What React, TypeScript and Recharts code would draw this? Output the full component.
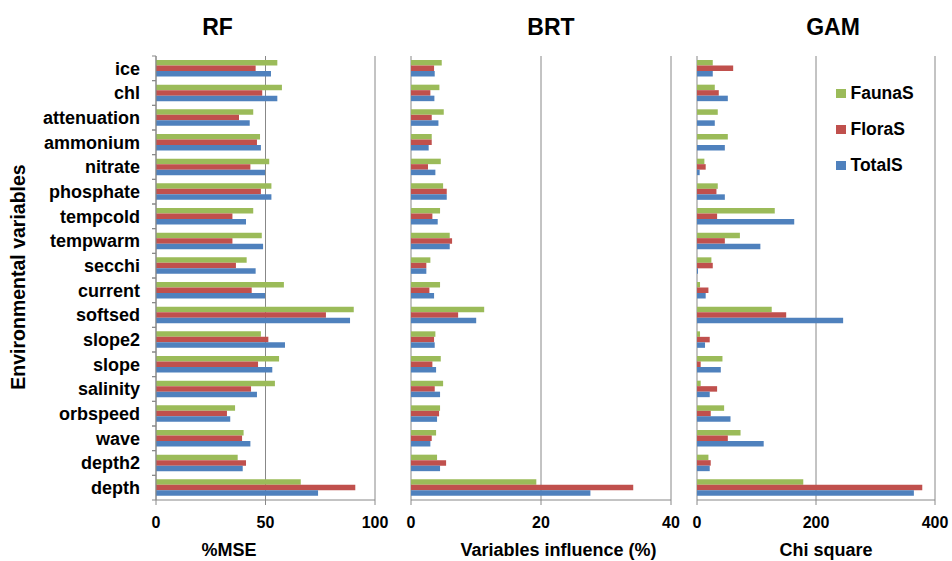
import { Bar, BarChart, CartesianGrid, Legend, XAxis, YAxis } from 'recharts'

const categories = [
  'ice', 'chl', 'attenuation', 'ammonium', 'nitrate', 'phosphate', 'tempcold', 'tempwarm', 'secchi',
  'current', 'softsed', 'slope2', 'slope', 'salinity', 'orbspeed', 'wave', 'depth2', 'depth',
]

// RF (%MSE)
const rfFauna = [55.4, 57.5, 44.4, 47.5, 51.7, 52.7, 44.4, 48.3, 41.4, 58.4, 90.3, 47.9, 56.2, 54.3, 36.1, 40.0, 37.3, 66.1]
const rfFlora = [45.5, 48.5, 37.9, 46.1, 43.1, 47.9, 34.9, 34.9, 36.5, 43.7, 77.6, 51.3, 46.6, 43.4, 32.4, 39.3, 41.1, 91.0]
const rfTotal = [52.5, 55.4, 42.8, 47.9, 49.8, 52.7, 41.1, 48.9, 45.5, 49.8, 88.6, 58.9, 53.1, 46.1, 33.9, 43.1, 39.6, 74.0]

// BRT (variables influence %)
const brtFauna = [4.73, 4.37, 5.04, 3.19, 4.58, 4.94, 4.47, 5.96, 2.98, 4.47, 11.26, 3.75, 4.58, 4.94, 4.47, 3.86, 4.01, 19.28]
const brtFlora = [3.55, 2.98, 3.19, 3.19, 2.62, 5.5, 3.29, 6.32, 2.36, 2.83, 7.25, 3.55, 3.29, 3.65, 4.32, 3.19, 5.4, 34.19]
const brtTotal = [3.65, 3.6, 4.22, 2.72, 3.75, 5.5, 4.11, 5.96, 2.36, 3.55, 10.03, 3.65, 3.86, 4.47, 4.01, 2.98, 4.47, 27.6]

// GAM (chi square)
const gamFauna = [26.5, 29.9, 34.9, 51.8, 12.4, 34.9, 130.7, 72.1, 24.2, 5.1, 125.6, 5.1, 42.8, 6.2, 45.6, 73.2, 19.2, 178.6]
const gamFlora = [60.8, 36.6, 0, 0, 14.6, 32.7, 33.8, 46.8, 26.5, 19.2, 149.9, 21.4, 6.2, 33.8, 23.1, 51.8, 23.1, 378.6]
const gamTotal = [26.5, 51.8, 29.9, 46.8, 4.5, 46.8, 163.4, 106.5, 1.7, 14.6, 245.6, 13.5, 40.0, 21.4, 56.3, 112.1, 21.4, 364.5]

const rfTicks = [0, 50, 100]
const brtTicks = [0, 20, 40]
const gamTicks = [0, 200, 400]

const GREEN = '#9BBB59'
const RED = '#C0504D'
const BLUE = '#4F81BD'
const AXIS = '#888888'
const FONT = '"Liberation Sans", Arial, Helvetica, sans-serif'

const PLOT_HEIGHT = 444
const HALF_BAND = PLOT_HEIGHT / categories.length / 2

function CategoryTick({ x, y, payload }: any) {
  return (
    <g>
      <text x={x} y={y} dy="0.35em" textAnchor="end" fontSize={18} fontWeight="bold" fill="#000" fontFamily={FONT}>
        {payload.value}
      </text>
      <line x1={x + 12} x2={x + 16} y1={y - HALF_BAND} y2={y - HALF_BAND} stroke={AXIS} />
      <line x1={x + 12} x2={x + 16} y1={y + HALF_BAND} y2={y + HALF_BAND} stroke={AXIS} />
    </g>
  )
}

function LegendBox({ payload }: any) {
  return (
    <div style={{ fontFamily: FONT }}>
      {(payload || []).map((p: any) => (
        <div key={p.value} style={{ display: 'flex', alignItems: 'center', height: 36 }}>
          <span style={{ width: 9.5, height: 9.5, background: p.color, marginRight: 5, display: 'inline-block' }} />
          <span style={{ fontSize: 17.5, fontWeight: 'bold', color: '#000' }}>{p.value}</span>
        </div>
      ))}
    </div>
  )
}

interface PanelProps {
  fauna: number[]
  flora: number[]
  total: number[]
  ticks: number[]
  plotLeft: number
  plotRight: number
  labels?: boolean
  legend?: boolean
}

function Panel({ fauna, flora, total, ticks, plotLeft, plotRight, labels = false, legend = false }: PanelProps) {
  const data = categories.map((name, i) => ({ name, fauna: fauna[i], flora: flora[i], total: total[i] }))
  const yWidth = labels ? plotLeft : 0
  return (
    <div style={{ position: 'absolute', left: 0, top: 0 }}>
      <BarChart
        width={952}
        height={561}
        data={data}
        layout="vertical"
        margin={{ top: 56, right: 952 - plotRight, bottom: 31, left: plotLeft - yWidth }}
        barGap={0}
        barSize={5.5}
      >
        <CartesianGrid horizontal={false} stroke={AXIS} />
        <XAxis
          type="number"
          domain={[ticks[0], ticks[ticks.length - 1]]}
          ticks={ticks}
          interval={0}
          stroke={AXIS}
          tickSize={5}
          tickMargin={12}
          tick={{ fill: '#000', fontSize: 16, fontWeight: 'bold', fontFamily: FONT }}
        />
        <YAxis
          type="category"
          dataKey="name"
          width={yWidth}
          stroke={AXIS}
          tickLine={false}
          tickSize={4}
          tickMargin={12}
          interval={0}
          tick={labels ? <CategoryTick /> : false}
        />
        {legend && (
          <Legend
            layout="horizontal"
            verticalAlign="middle"
            align="center"
            wrapperStyle={{ left: 836, top: 75.5, width: 110 }}
            content={<LegendBox />}
          />
        )}
        <Bar dataKey="fauna" name="FaunaS" fill={GREEN} isAnimationActive={false} />
        <Bar dataKey="flora" name="FloraS" fill={RED} isAnimationActive={false} />
        <Bar dataKey="total" name="TotalS" fill={BLUE} isAnimationActive={false} />
      </BarChart>
    </div>
  )
}

export default function App() {
  return (
    <div style={{ position: 'absolute', left: 0, top: 0, width: 952, height: 561, background: '#fff', fontFamily: FONT }}>
      <Panel fauna={rfFauna} flora={rfFlora} total={rfTotal} ticks={rfTicks} plotLeft={156} plotRight={375} labels />
      <Panel fauna={brtFauna} flora={brtFlora} total={brtTotal} ticks={brtTicks} plotLeft={411} plotRight={671} />
      <Panel fauna={gamFauna} flora={gamFlora} total={gamTotal} ticks={gamTicks} plotLeft={697} plotRight={935} legend />
      <svg width={952} height={561} style={{ position: 'absolute', left: 0, top: 0, pointerEvents: 'none' }}>
        <g fontFamily={FONT} fontWeight="bold" fill="#000" textAnchor="middle">
          <text x={217.5} y={35} fontSize={23}>RF</text>
          <text x={551} y={35} fontSize={23}>BRT</text>
          <text x={833} y={35} fontSize={23}>GAM</text>
          <text x={229} y={556} fontSize={18}>%MSE</text>
          <text x={558.5} y={556} fontSize={18}>Variables influence (%)</text>
          <text x={826} y={556} fontSize={18}>Chi square</text>
          <text x={25} y={277} fontSize={19.5} transform="rotate(-90, 25, 277)">Environmental variables</text>
        </g>
      </svg>
    </div>
  )
}
